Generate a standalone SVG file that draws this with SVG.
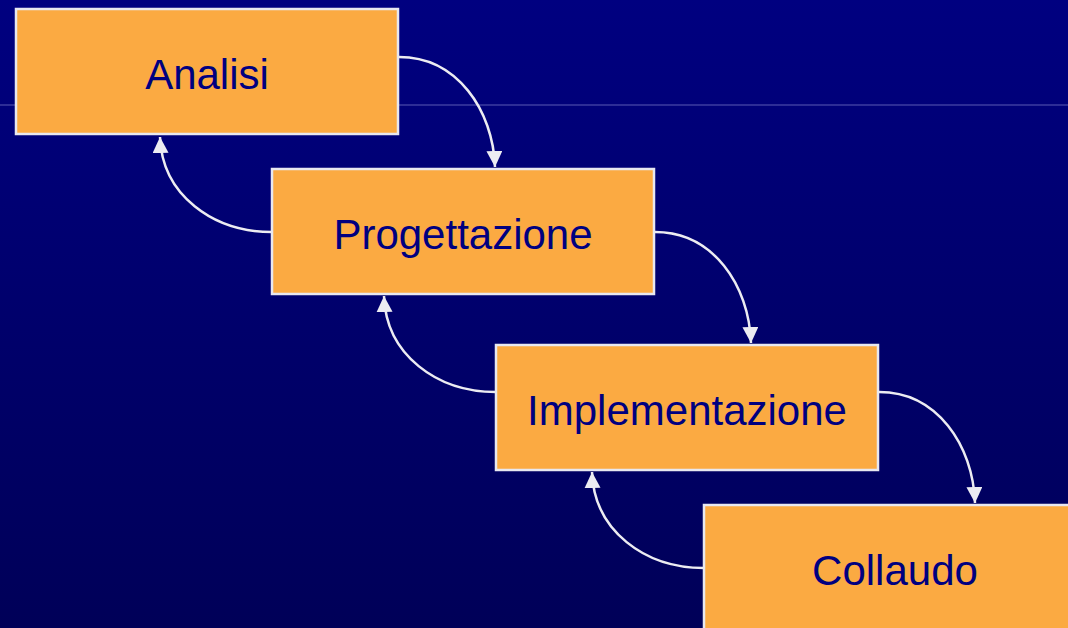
<svg xmlns="http://www.w3.org/2000/svg" width="1068" height="628" viewBox="0 0 1068 628">
  <defs>
    <linearGradient id="bg" x1="0" y1="0" x2="0" y2="1">
      <stop offset="0" stop-color="#000080"/>
      <stop offset="1" stop-color="#000058"/>
    </linearGradient>
    <marker id="arr" markerUnits="userSpaceOnUse" markerWidth="16" markerHeight="16" refX="16" refY="8" orient="auto">
      <path d="M0,0 L16,8 L0,16 z" fill="#ececf2"/>
    </marker>
    <style>
      .box{fill:#fbaa42;stroke:#e8e8f0;stroke-width:2.5}
      .lbl{font-family:"Liberation Sans",Arial,sans-serif;font-size:42px;fill:#000080;text-anchor:middle}
      .con{fill:none;stroke:#ececf2;stroke-width:2.5;marker-end:url(#arr)}
    </style>
  </defs>
  <rect x="0" y="0" width="1068" height="628" fill="url(#bg)"/>
  <line x1="0" y1="105" x2="1068" y2="105" stroke="#5a5ab4" stroke-width="1"/>
  <g id="connectors">
    <path class="con" d="M399,57 C457,57 493,110 495,167"/>
    <path class="con" d="M272,232 C213,232 162,195 160,137"/>
    <path class="con" d="M655,232 C713,232 749,285 751,343"/>
    <path class="con" d="M496,392 C437,392 386,355 384,296"/>
    <path class="con" d="M879,392 C937,392 973,445 975,503"/>
    <path class="con" d="M704,568 C645,568 594,531 592,472"/>
  </g>
  <g id="analisi">
    <rect class="box" x="16" y="9" width="382" height="125"/>
    <text class="lbl" x="207" y="89">Analisi</text>
  </g>
  <g id="progettazione">
    <rect class="box" x="272" y="169" width="382" height="125"/>
    <text class="lbl" x="463" y="249">Progettazione</text>
  </g>
  <g id="implementazione">
    <rect class="box" x="496" y="345" width="382" height="125"/>
    <text class="lbl" x="687" y="425">Implementazione</text>
  </g>
  <g id="collaudo">
    <rect class="box" x="704" y="505" width="382" height="140"/>
    <text class="lbl" x="895" y="585">Collaudo</text>
  </g>
</svg>
